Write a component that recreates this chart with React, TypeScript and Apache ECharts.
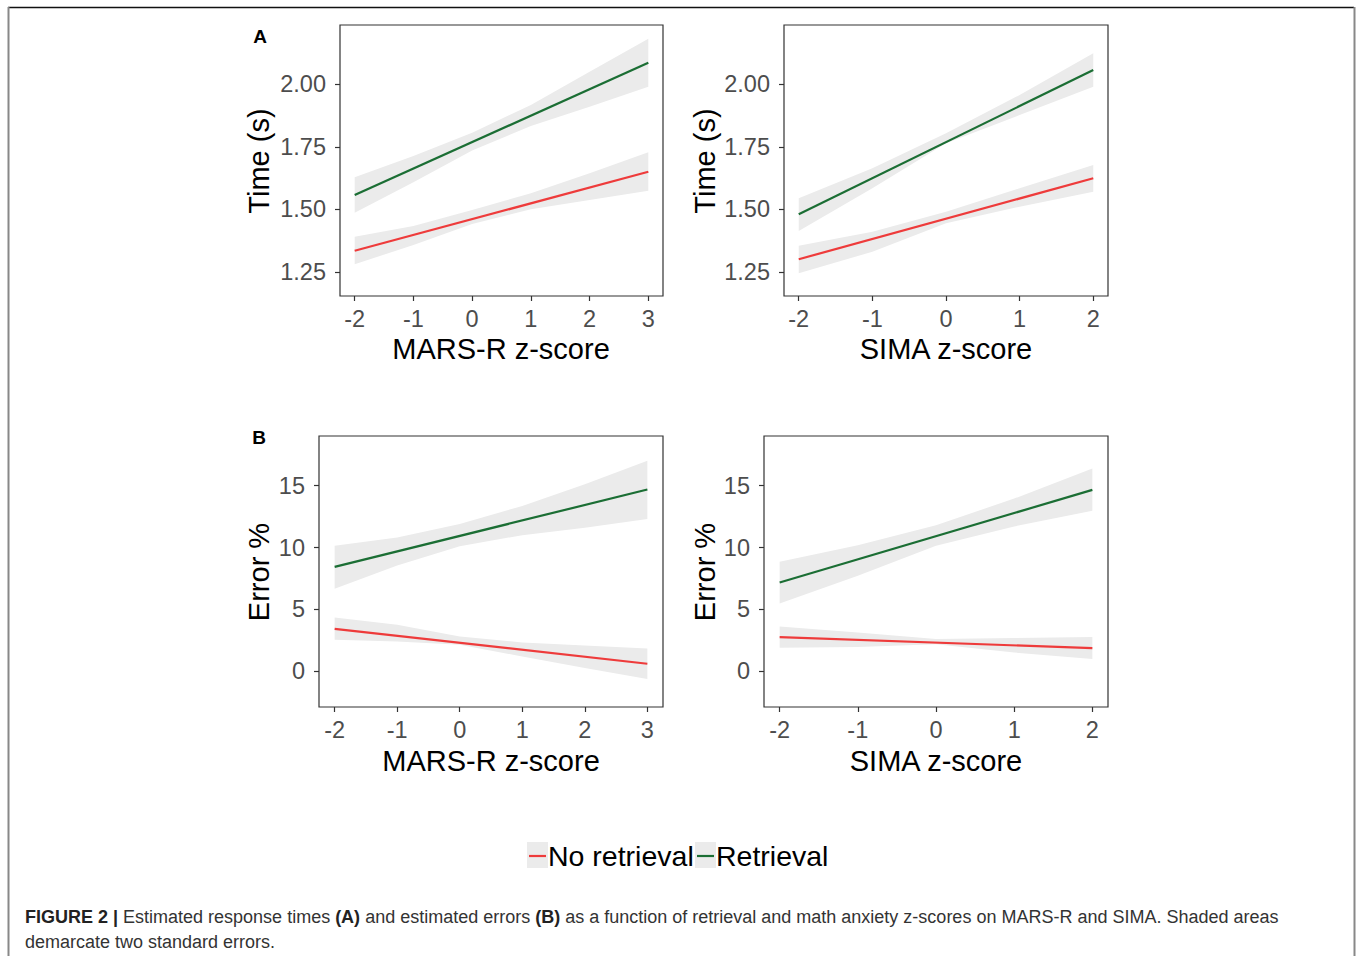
import React, { useEffect, useRef } from "react";
import * as echarts from "echarts";

// ---------- data ----------
const mrX = [-2, -1, 0, 1, 2, 3];
const simaX = [-2, -1, 0, 1, 2];
const mrLineX = [-2, 3];
const simaLineX = [-2, 2];
const mrTicks = [-2, -1, 0, 1, 2, 3];
const simaTicks = [-2, -1, 0, 1, 2];
const timeTicks = [1.25, 1.5, 1.75, 2.0];
const errorTicks = [0, 5, 10, 15];

// Panel A, MARS-R: response time
const tMrRetLine = [1.557, 2.086];
const tMrRetUpper = [1.628, 1.713, 1.806, 1.917, 2.05, 2.182];
const tMrRetLower = [1.486, 1.608, 1.735, 1.833, 1.91, 1.99];
const tMrNoLine = [1.334, 1.65];
const tMrNoUpper = [1.39, 1.433, 1.497, 1.564, 1.644, 1.728];
const tMrNoLower = [1.28, 1.357, 1.441, 1.5, 1.537, 1.574];

// Panel A, SIMA: response time
const tSiRetLine = [1.48, 2.057];
const tSiRetUpper = [1.544, 1.664, 1.804, 1.957, 2.124];
const tSiRetLower = [1.413, 1.584, 1.764, 1.877, 1.99];
const tSiNoLine = [1.3, 1.624];
const tSiNoUpper = [1.354, 1.41, 1.49, 1.584, 1.677];
const tSiNoLower = [1.244, 1.33, 1.444, 1.51, 1.57];

// Panel B, MARS-R: error %
const eMrRetLine = [8.44, 14.68];
const eMrRetUpper = [10.14, 10.8, 11.9, 13.36, 15.1, 17.0];
const eMrRetLower = [6.67, 8.55, 10.1, 11.0, 11.6, 12.3];
const eMrNoLine = [3.44, 0.62];
const eMrNoUpper = [4.35, 3.76, 2.82, 2.34, 2.1, 1.85];
const eMrNoLower = [2.56, 2.42, 2.15, 1.21, 0.27, -0.61];

// Panel B, SIMA: error %
const eSiRetLine = [7.18, 14.65];
const eSiRetUpper = [8.85, 10.19, 11.8, 13.95, 16.37];
const eSiRetLower = [5.48, 7.72, 10.14, 11.7, 12.96];
const eSiNoLine = [2.77, 1.88];
const eSiNoUpper = [3.63, 3.14, 2.61, 2.69, 2.77];
const eSiNoLower = [1.91, 1.97, 2.2, 1.53, 1.0];

const GREEN = "#1b6e34";
const RED = "#ee3b3b";
const RIBBON = "#ebebeb";
const FONT = "'Liberation Sans', Arial, Helvetica, sans-serif";

function ribbon(gi: number, xs: number[], lo: number[], hi: number[]) {
  return {
    type: "custom",
    xAxisIndex: gi,
    yAxisIndex: gi,
    silent: true,
    z: 1,
    data: xs.map((x, i) => [x, lo[i], hi[i]]),
    encode: { x: 0, y: [1, 2] },
    renderItem: (params: any, api: any) => {
      if (params.dataIndex !== 0) return null;
      const up = xs.map((x, i) => api.coord([x, hi[i]]));
      const dn = xs.map((x, i) => api.coord([x, lo[i]])).reverse();
      return {
        type: "polygon",
        shape: { points: up.concat(dn) },
        style: { fill: RIBBON },
      };
    },
  };
}

function line(gi: number, xs: number[], ys: number[], color: string) {
  return {
    type: "line",
    xAxisIndex: gi,
    yAxisIndex: gi,
    z: 3,
    silent: true,
    symbol: "none",
    showSymbol: false,
    data: xs.map((x, i) => [x, ys[i]]),
    lineStyle: { color, width: 2.2 },
  };
}

function xAxis(gi: number, min: number, max: number, ticks: number[]) {
  return {
    type: "value",
    gridIndex: gi,
    min,
    max,
    axisLine: { show: false, onZero: false },
    splitLine: { show: false },
    axisTick: {
      show: true,
      length: 5,
      customValues: ticks,
      lineStyle: { color: "#333333", width: 1.2 },
    },
    axisLabel: {
      customValues: ticks,
      color: "#4d4d4d",
      fontSize: 23.5,
      fontFamily: FONT,
      margin: 11,
      formatter: (v: number) => String(v),
    },
  };
}

function yAxis(gi: number, min: number, max: number, ticks: number[], digits: number) {
  return {
    type: "value",
    gridIndex: gi,
    min,
    max,
    axisLine: { show: false, onZero: false },
    splitLine: { show: false },
    axisTick: {
      show: true,
      length: 5,
      customValues: ticks,
      lineStyle: { color: "#333333", width: 1.2 },
    },
    axisLabel: {
      customValues: ticks,
      color: "#4d4d4d",
      fontSize: 23.5,
      fontFamily: FONT,
      margin: 14,
      formatter: (v: number) => v.toFixed(digits),
    },
  };
}

const gridBase = {
  show: true,
  borderColor: "#333333",
  borderWidth: 1.2,
  backgroundColor: "transparent",
};

function titleText(x: number, y: number, text: string, rotate: boolean) {
  return {
    type: "text",
    x,
    y,
    rotation: rotate ? Math.PI / 2 : 0,
    style: {
      text,
      fontSize: 29,
      fontFamily: FONT,
      fill: "#000000",
      align: "center",
      verticalAlign: "middle",
    },
  };
}

export default function App() {
  const ref = useRef<HTMLDivElement>(null);
  useEffect(() => {
    if (!ref.current) return;
    const chart = echarts.init(ref.current, undefined, { renderer: "svg" });
    const option: any = {
      animation: false,
      backgroundColor: "#ffffff",
      grid: [
        { ...gridBase, left: 340, top: 25, width: 323, height: 271 },
        { ...gridBase, left: 784, top: 25, width: 324, height: 271 },
        { ...gridBase, left: 319, top: 436, width: 344, height: 271 },
        { ...gridBase, left: 764, top: 436, width: 344, height: 271 },
      ],
      xAxis: [
        xAxis(0, -2.25, 3.25, mrTicks),
        xAxis(1, -2.2, 2.2, simaTicks),
        xAxis(2, -2.25, 3.25, mrTicks),
        xAxis(3, -2.2, 2.2, simaTicks),
      ],
      yAxis: [
        yAxis(0, 1.153, 2.237, timeTicks, 2),
        yAxis(1, 1.153, 2.237, timeTicks, 2),
        yAxis(2, -2.87, 19.0, errorTicks, 0),
        yAxis(3, -2.87, 19.0, errorTicks, 0),
      ],
      series: [
        ribbon(0, mrX, tMrRetLower, tMrRetUpper),
        ribbon(0, mrX, tMrNoLower, tMrNoUpper),
        line(0, mrLineX, tMrNoLine, RED),
        line(0, mrLineX, tMrRetLine, GREEN),

        ribbon(1, simaX, tSiRetLower, tSiRetUpper),
        ribbon(1, simaX, tSiNoLower, tSiNoUpper),
        line(1, simaLineX, tSiNoLine, RED),
        line(1, simaLineX, tSiRetLine, GREEN),

        ribbon(2, mrX, eMrRetLower, eMrRetUpper),
        ribbon(2, mrX, eMrNoLower, eMrNoUpper),
        line(2, mrLineX, eMrNoLine, RED),
        line(2, mrLineX, eMrRetLine, GREEN),

        ribbon(3, simaX, eSiRetLower, eSiRetUpper),
        ribbon(3, simaX, eSiNoLower, eSiNoUpper),
        line(3, simaLineX, eSiNoLine, RED),
        line(3, simaLineX, eSiRetLine, GREEN),
      ],
      graphic: [
        // figure frame
        { type: "line", shape: { x1: 8, y1: 7.5, x2: 1354, y2: 7.5 }, style: { stroke: "#111111", lineWidth: 1.5 } },
        { type: "line", shape: { x1: 8.5, y1: 7, x2: 8.5, y2: 960 }, style: { stroke: "#888888", lineWidth: 2 } },
        { type: "line", shape: { x1: 1354.5, y1: 7, x2: 1354.5, y2: 960 }, style: { stroke: "#888888", lineWidth: 2 } },
        // panel letters
        { type: "text", x: 260, y: 36, style: { text: "A", fontSize: 19, fontWeight: "bold", fontFamily: FONT, fill: "#000", align: "center", verticalAlign: "middle" } },
        { type: "text", x: 259, y: 437, style: { text: "B", fontSize: 19, fontWeight: "bold", fontFamily: FONT, fill: "#000", align: "center", verticalAlign: "middle" } },
        // axis titles
        titleText(259, 161, "Time (s)", true),
        titleText(705, 161, "Time (s)", true),
        titleText(259, 572, "Error %", true),
        titleText(705, 572, "Error %", true),
        titleText(501, 349, "MARS-R z-score", false),
        titleText(946, 349, "SIMA z-score", false),
        titleText(491, 761, "MARS-R z-score", false),
        titleText(936, 761, "SIMA z-score", false),
        // legend
        { type: "rect", shape: { x: 527, y: 842, width: 21, height: 26 }, style: { fill: RIBBON } },
        { type: "line", shape: { x1: 529, y1: 856, x2: 546, y2: 856 }, style: { stroke: RED, lineWidth: 2.2 } },
        { type: "text", x: 548, y: 856, style: { text: "No retrieval", fontSize: 28.5, fontFamily: FONT, fill: "#000", align: "left", verticalAlign: "middle" } },
        { type: "rect", shape: { x: 695, y: 842, width: 21, height: 26 }, style: { fill: RIBBON } },
        { type: "line", shape: { x1: 697, y1: 856, x2: 714, y2: 856 }, style: { stroke: GREEN, lineWidth: 2.2 } },
        { type: "text", x: 716, y: 856, style: { text: "Retrieval", fontSize: 28.5, fontFamily: FONT, fill: "#000", align: "left", verticalAlign: "middle" } },
        // caption
        {
          type: "text",
          x: 25,
          y: 917,
          style: {
            text:
              "{b|FIGURE 2 |} Estimated response times {b|(A)} and estimated errors {b|(B)} as a function of retrieval and math anxiety z-scores on MARS-R and SIMA. Shaded areas",
            fontSize: 18,
            fontFamily: FONT,
            fill: "#333333",
            verticalAlign: "middle",
            rich: { b: { fontWeight: "bold", fontSize: 18, fontFamily: FONT, fill: "#222222" } },
          },
        },
        {
          type: "text",
          x: 25,
          y: 942,
          style: {
            text: "demarcate two standard errors.",
            fontSize: 18,
            fontFamily: FONT,
            fill: "#333333",
            verticalAlign: "middle",
          },
        },
      ],
    };
    chart.setOption(option);
    return () => chart.dispose();
  }, []);
  return (
    <div
      ref={ref}
      style={{ position: "absolute", left: 0, top: 0, width: 1357, height: 956 }}
    />
  );
}
